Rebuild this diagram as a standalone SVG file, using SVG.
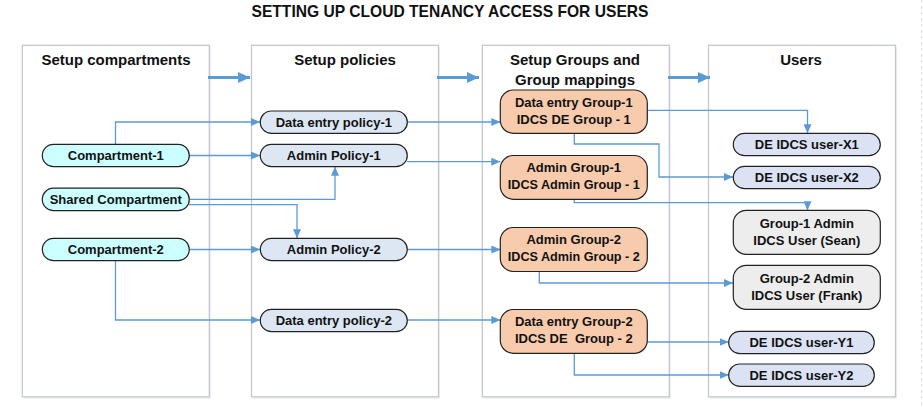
<svg xmlns="http://www.w3.org/2000/svg" width="923" height="407" viewBox="0 0 923 407">
<defs>
<style>
.panel{fill:#fff;stroke:#c3c8d0;stroke-width:1.3}
.shadow{fill:#eef1f5}
.hdr{font-family:"Liberation Sans",Arial,sans-serif;font-weight:bold;font-size:15px;fill:#111;text-anchor:middle}
.title{font-family:"Liberation Sans",Arial,sans-serif;font-weight:bold;font-size:17px;fill:#111;text-anchor:middle}
.lbl{font-family:"Liberation Sans",Arial,sans-serif;font-weight:bold;font-size:13px;fill:#111;text-anchor:middle}
.node{stroke:#222;stroke-width:1.2}
.comp{fill:#ccffff}
.pol{fill:#dde7f3}
.grp{fill:#f8cbad}
.usr{fill:#dae2f3}
.adm{fill:#ededed}
.conn{fill:none;stroke:#5b9bd5;stroke-width:1.3;marker-end:url(#ah)}
.big{fill:none;stroke:#5b9bd5;stroke-width:3;marker-end:url(#bh)}
</style>
<marker id="ah" markerUnits="userSpaceOnUse" markerWidth="9" markerHeight="8" refX="9" refY="4" orient="auto">
<path d="M0,0 L9,4 L0,8 z" fill="#5b9bd5"/>
</marker>
<marker id="bh" markerUnits="userSpaceOnUse" markerWidth="12" markerHeight="11" refX="12" refY="5.5" orient="auto">
<path d="M0,0 L12,5.5 L0,11 z" fill="#5b9bd5"/>
</marker>
</defs>
<rect width="923" height="407" fill="#fff"/>
<line x1="921.5" y1="0" x2="921.5" y2="407" stroke="#e2e2e2" stroke-width="1" stroke-dasharray="3 3"/>
<text class="title" x="450" y="16.5" textLength="397" lengthAdjust="spacingAndGlyphs">SETTING UP CLOUD TENANCY ACCESS FOR USERS</text>
<g id="panels">
<rect class="shadow" x="24" y="47" width="187" height="352"/>
<rect class="shadow" x="253" y="47" width="187" height="352"/>
<rect class="shadow" x="484" y="47" width="187" height="352"/>
<rect class="shadow" x="710" y="47" width="187" height="352"/>
<rect class="panel" x="22.3" y="45.3" width="187" height="351.5"/>
<rect class="panel" x="251.5" y="45.3" width="187" height="351.5"/>
<rect class="panel" x="482.3" y="45.3" width="187" height="351.5"/>
<rect class="panel" x="708.5" y="45.3" width="187" height="351.5"/>
<text class="hdr" x="116" y="64.5">Setup compartments</text>
<text class="hdr" x="345" y="65">Setup policies</text>
<text class="hdr" x="575" y="65">Setup Groups and</text>
<text class="hdr" x="575" y="84.5">Group mappings</text>
<text class="hdr" x="801" y="65">Users</text>
</g>
<g id="connectors">
<path class="big" d="M208,77.5 H250"/>
<path class="big" d="M437,77.5 H479"/>
<path class="big" d="M668,77.5 H710"/>
<path class="conn" d="M115.5,144.3 V122 H260"/>
<path class="conn" d="M189,155.5 H260"/>
<path class="conn" d="M189,199.3 H335 V166.7"/>
<path class="conn" d="M189,204.7 H297 V238.3"/>
<path class="conn" d="M189,249.5 H260"/>
<path class="conn" d="M115.5,260.7 V320 H260"/>
<path class="conn" d="M407,122 H500.3"/>
<path class="conn" d="M407,161.7 H500.3"/>
<path class="conn" d="M407,249.5 H500.3"/>
<path class="conn" d="M407,320 H500.3"/>
<path class="conn" d="M647.3,110.3 H807.5 V133.3"/>
<path class="conn" d="M574.3,133.5 V144 H659 V177 H733"/>
<path class="conn" d="M574.3,199 V202.7 H807.5 V210.3"/>
<path class="conn" d="M539.3,271.3 V283 H733"/>
<path class="conn" d="M647.3,342 H728.7"/>
<path class="conn" d="M574.3,353 V375 H728.7"/>
</g>
<g id="compartment-1"><rect class="node comp" x="42.3" y="144.3" width="147" height="22.4" rx="11.2"/><text class="lbl" x="115.8" y="160">Compartment-1</text></g>
<g id="shared-compartment"><rect class="node comp" x="42.3" y="188.2" width="147" height="22.4" rx="11.2"/><text class="lbl" x="115.8" y="203.9">Shared Compartment</text></g>
<g id="compartment-2"><rect class="node comp" x="42.3" y="238.3" width="147" height="22.4" rx="11.2"/><text class="lbl" x="115.8" y="254">Compartment-2</text></g>
<g id="data-entry-policy-1"><rect class="node pol" x="260.3" y="111" width="147" height="22.4" rx="11.2"/><text class="lbl" x="333.8" y="126.7">Data entry policy-1</text></g>
<g id="admin-policy-1"><rect class="node pol" x="260.3" y="144.3" width="147" height="22.4" rx="11.2"/><text class="lbl" x="333.8" y="160">Admin Policy-1</text></g>
<g id="admin-policy-2"><rect class="node pol" x="260.3" y="238.3" width="147" height="22.4" rx="11.2"/><text class="lbl" x="333.8" y="254">Admin Policy-2</text></g>
<g id="data-entry-policy-2"><rect class="node pol" x="260.3" y="309.3" width="147" height="22.4" rx="11.2"/><text class="lbl" x="333.8" y="325">Data entry policy-2</text></g>
<g id="data-entry-group-1"><rect class="node grp" x="500.3" y="90" width="147" height="43.3" rx="13"/><text class="lbl" x="573.8" y="106.5">Data entry Group-1</text><text class="lbl" x="573.8" y="123.5">IDCS DE Group - 1</text></g>
<g id="admin-group-1"><rect class="node grp" x="500.3" y="155.5" width="147" height="43.8" rx="13"/><text class="lbl" x="573.8" y="172">Admin Group-1</text><text class="lbl" x="573.8" y="189" textLength="132" lengthAdjust="spacingAndGlyphs">IDCS Admin Group - 1</text></g>
<g id="admin-group-2"><rect class="node grp" x="500.3" y="227.5" width="147" height="44" rx="13"/><text class="lbl" x="573.8" y="244">Admin Group-2</text><text class="lbl" x="573.8" y="261" textLength="132" lengthAdjust="spacingAndGlyphs">IDCS Admin Group - 2</text></g>
<g id="data-entry-group-2"><rect class="node grp" x="500.3" y="309.5" width="147" height="43.8" rx="13"/><text class="lbl" x="573.8" y="326">Data entry Group-2</text><text class="lbl" x="573.8" y="343" xml:space="preserve">IDCS DE  Group - 2</text></g>
<g id="de-idcs-user-x1"><rect class="node usr" x="733.3" y="133.3" width="147" height="22.4" rx="11.2"/><text class="lbl" x="806.8" y="149">DE IDCS user-X1</text></g>
<g id="de-idcs-user-x2"><rect class="node usr" x="733.3" y="166.3" width="147" height="22.4" rx="11.2"/><text class="lbl" x="806.8" y="182">DE IDCS user-X2</text></g>
<g id="group-1-admin"><rect class="node adm" x="733.3" y="210.3" width="147" height="44" rx="13"/><text class="lbl" x="806.8" y="228">Group-1 Admin</text><text class="lbl" x="806.8" y="245">IDCS User (Sean)</text></g>
<g id="group-2-admin"><rect class="node adm" x="733.3" y="265.3" width="147" height="44" rx="13"/><text class="lbl" x="806.8" y="283">Group-2 Admin</text><text class="lbl" x="806.8" y="300">IDCS User (Frank)</text></g>
<g id="de-idcs-user-y1"><rect class="node usr" x="728.7" y="331.3" width="145.6" height="22.4" rx="11.2"/><text class="lbl" x="801.5" y="347">DE IDCS user-Y1</text></g>
<g id="de-idcs-user-y2"><rect class="node usr" x="728.7" y="364" width="145.6" height="22.4" rx="11.2"/><text class="lbl" x="801.5" y="379.7">DE IDCS user-Y2</text></g>
</svg>
